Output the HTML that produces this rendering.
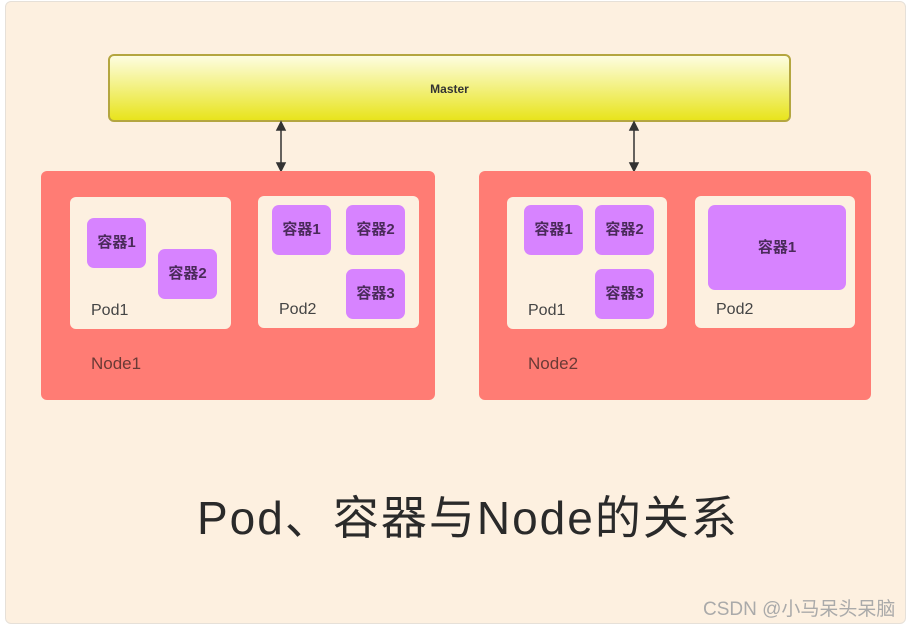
<!DOCTYPE html>
<html><head><meta charset="utf-8"><style>
*{margin:0;padding:0;box-sizing:border-box}
body{width:909px;height:624px;background:#fff;position:relative;overflow:hidden;font-family:"Liberation Sans","Noto Sans CJK SC",sans-serif}
.a{position:absolute}
.frame{left:5px;top:1px;width:901px;height:623px;background:#fdf0e0;border:1px solid #e6e0d8;border-radius:6px}
.master{left:108px;top:54px;width:683px;height:68px;border:2px solid #b4a640;border-radius:6px;background:linear-gradient(#fdfde0,#e8e41c);font-size:12px;font-weight:bold;color:#333;text-align:center;line-height:66px}
.node{background:#ff7c74;border-radius:6px}
.pod{background:#fdf0e0;border-radius:6px}
.c{background:#d783ff;border-radius:7px;color:#4a2a5a;font-weight:bold;font-size:15px;text-align:center;line-height:50px;width:59px;height:50px}
.lbl{font-size:16px;color:#444}
.nl{font-size:17px;color:#6a3a36}
</style></head><body>
<div class="a frame"></div>
<div class="a master">Master</div>
<svg class="a" style="left:0;top:0" width="909" height="624">
<g stroke="#333" stroke-width="1.5" fill="#333">
<line x1="281" y1="127" x2="281" y2="166"/><path d="M277 130 L281 122 L285 130Z M277 163 L281 171 L285 163Z"/>
<line x1="634" y1="127" x2="634" y2="166"/><path d="M630 130 L634 122 L638 130Z M630 163 L634 171 L638 163Z"/>
</g></svg>
<div class="a node" style="left:41px;top:171px;width:394px;height:229px"></div>
<div class="a node" style="left:479px;top:171px;width:392px;height:229px"></div>
<div class="a pod" style="left:70px;top:197px;width:161px;height:132px"></div>
<div class="a pod" style="left:258px;top:196px;width:161px;height:132px"></div>
<div class="a pod" style="left:507px;top:197px;width:160px;height:132px"></div>
<div class="a pod" style="left:695px;top:196px;width:160px;height:132px"></div>
<div class="a c" style="left:87px;top:218px">容器1</div>
<div class="a c" style="left:158px;top:249px">容器2</div>
<div class="a c" style="left:272px;top:205px">容器1</div>
<div class="a c" style="left:346px;top:205px">容器2</div>
<div class="a c" style="left:346px;top:269px">容器3</div>
<div class="a c" style="left:524px;top:205px">容器1</div>
<div class="a c" style="left:595px;top:205px">容器2</div>
<div class="a c" style="left:595px;top:269px">容器3</div>
<div class="a c" style="left:708px;top:205px;width:138px;height:85px;line-height:85px">容器1</div>
<div class="a lbl" style="left:91px;top:302px">Pod1</div>
<div class="a lbl" style="left:279px;top:301px">Pod2</div>
<div class="a lbl" style="left:528px;top:302px">Pod1</div>
<div class="a lbl" style="left:716px;top:301px">Pod2</div>
<div class="a nl" style="left:91px;top:354px">Node1</div>
<div class="a nl" style="left:528px;top:354px">Node2</div>
<div class="a" style="left:197px;top:482px;font-size:46px;letter-spacing:2px;color:#2a2a2a;white-space:nowrap">Pod、容器与Node的关系</div>
<div class="a" style="left:703px;top:594px;font-size:19px;color:#aaa;white-space:nowrap">CSDN @小马呆头呆脑</div>
</body></html>
